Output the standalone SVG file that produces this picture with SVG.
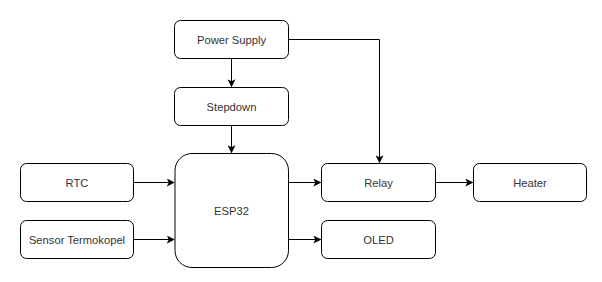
<svg xmlns="http://www.w3.org/2000/svg" width="602" height="282" viewBox="0 0 602 282">
  <style>
    .box { fill: #ffffff; stroke: #000000; stroke-width: 1; }
    .lbl { font-family: "Liberation Sans", Arial, sans-serif; font-size: 11.2px; fill: #333333; text-anchor: middle; dominant-baseline: central; }
    .wire { fill: none; stroke: #000000; stroke-width: 1; }
  </style>
  <defs>
    <marker id="arrow" viewBox="0 0 10 10" refX="9" refY="5" markerWidth="8" markerHeight="8" markerUnits="userSpaceOnUse" orient="auto">
      <path d="M0,0 L10,5 L0,10 L2.5,5 Z" fill="#000000"/>
    </marker>
  </defs>
  <rect width="602" height="282" fill="#ffffff"/>

  <g id="connectors">
    <path class="wire" d="M231.5,58.5 V86.5" marker-end="url(#arrow)"/>
    <path class="wire" d="M231.5,125.5 V152.5" marker-end="url(#arrow)"/>
    <path class="wire" d="M288.5,39.5 H379.5 V162.5" marker-end="url(#arrow)"/>
    <path class="wire" d="M133.5,182.5 H174" marker-end="url(#arrow)"/>
    <path class="wire" d="M133.5,239.5 H174" marker-end="url(#arrow)"/>
    <path class="wire" d="M288.5,182.5 H320.5" marker-end="url(#arrow)"/>
    <path class="wire" d="M288.5,239.5 H320.5" marker-end="url(#arrow)"/>
    <path class="wire" d="M435.5,182.5 H472.5" marker-end="url(#arrow)"/>
  </g>

  <g id="power-supply">
    <rect class="box" x="174.5" y="20.5" width="114" height="38" rx="6"/>
    <text class="lbl" x="231.5" y="39.5">Power Supply</text>
  </g>
  <g id="stepdown">
    <rect class="box" x="174.5" y="87.5" width="114" height="38" rx="6"/>
    <text class="lbl" x="231.5" y="106.5">Stepdown</text>
  </g>
  <g id="rtc">
    <rect class="box" x="20.5" y="163.5" width="113" height="38" rx="6"/>
    <text class="lbl" x="77" y="182.5">RTC</text>
  </g>
  <g id="sensor-termokopel">
    <rect class="box" x="20.5" y="220.5" width="113" height="38" rx="6"/>
    <text class="lbl" x="77" y="239.5">Sensor Termokopel</text>
  </g>
  <g id="esp32">
    <rect class="box" x="175" y="153.5" width="113.5" height="114" rx="17"/>
    <text class="lbl" x="231.5" y="210.5">ESP32</text>
  </g>
  <g id="relay">
    <rect class="box" x="321.5" y="163.5" width="114" height="38" rx="6"/>
    <text class="lbl" x="378.5" y="182.5">Relay</text>
  </g>
  <g id="oled">
    <rect class="box" x="321.5" y="220.5" width="114" height="38" rx="6"/>
    <text class="lbl" x="378.5" y="239.5">OLED</text>
  </g>
  <g id="heater">
    <rect class="box" x="473.5" y="163.5" width="113" height="38" rx="6"/>
    <text class="lbl" x="530" y="182.5">Heater</text>
  </g>
</svg>
